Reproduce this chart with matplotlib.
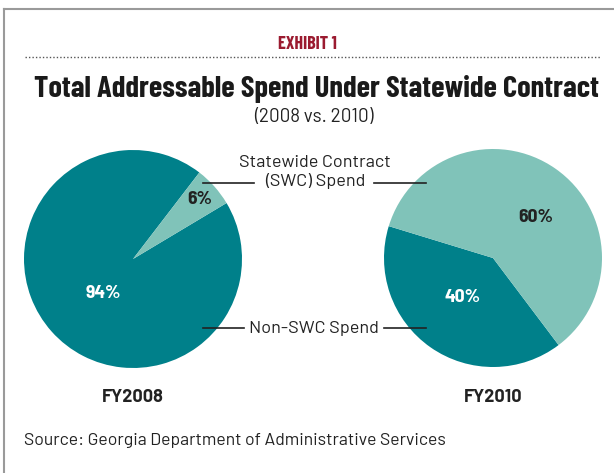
import matplotlib
matplotlib.use("Agg")
import matplotlib.pyplot as plt
from matplotlib.lines import Line2D

# data
years = ["FY2008", "FY2010"]
swc_share = [6, 60]        # Statewide Contract (SWC) Spend, %
non_swc_share = [94, 40]   # Non-SWC Spend, %
slice_names = ["Non-SWC Spend", "Statewide Contract\n(SWC) Spend"]

DARK = "#00808a"
LIGHT = "#80c3b9"
RED = "#9b1b30"
TITLE_FONT = ["Barlow Condensed", "DejaVu Sans"]
PCT_FONT = ["Barlow Semi Condensed", "DejaVu Sans"]
BODY_FONT = ["Barlow", "DejaVu Sans"]
plt.rcParams["font.family"] = BODY_FONT

W, H = 614, 473
fig = plt.figure(figsize=(W / 100, H / 100), dpi=100)
ax = fig.add_axes([0, 0, 1, 1])

def y(v):
    # pixel row from top -> axes y
    return H - v

centers = [(133, y(259)), (493, y(258))]
radius = 109
starts = [52.5, 163]
label_pos = [((200, 200), (103, 293)), ((536, 218), (463, 297))]

for i in range(2):
    ax.pie([non_swc_share[i], swc_share[i]], colors=[DARK, LIGHT],
           startangle=starts[i], counterclock=True, center=centers[i],
           radius=radius, wedgeprops=dict(linewidth=0))
    (sx, sy), (nx, ny) = label_pos[i]
    ax.text(sx, y(sy), f"{swc_share[i]}%", ha="center", va="center",
            fontsize=14, fontweight="bold", color="#222222", family=PCT_FONT)
    ax.text(nx, y(ny), f"{non_swc_share[i]}%", ha="center", va="center",
            fontsize=14, fontweight="bold", color="white", family=PCT_FONT)
    ax.text(centers[i][0], y(397), years[i], ha="center", va="center",
            fontsize=13, fontweight="bold", color="#222222")

ax.set_xlim(0, W)
ax.set_ylim(0, H)
ax.set_aspect("equal")
ax.axis("off")

# callout labels
ax.text(315, y(172), slice_names[1], ha="center", va="center", fontsize=13,
        color="#222222", linespacing=1.25)
ax.text(314, y(328), slice_names[0], ha="center", va="center", fontsize=13,
        color="#222222")
for x0, x1, yy in [(203, 254, 183), (374, 426, 183), (203, 244, 328), (384, 426, 328)]:
    ax.add_line(Line2D([x0, x1], [y(yy), y(yy)], color="#222222", lw=1.2))

# headings
ax.text(307, y(45), "EXHIBIT 1", ha="center", va="center", fontsize=13,
        fontweight="bold", color=RED, family=TITLE_FONT)
ax.add_line(Line2D([25, 600], [y(57), y(57)], color="#555555", lw=1,
                   linestyle=(0, (1, 1.5))))
ax.text(316, y(89), "Total Addressable Spend Under Statewide Contract",
        ha="center", va="center", fontsize=22, fontweight="bold", color="#1a1a1a",
        family=TITLE_FONT)
ax.text(314, y(117), "(2008 vs. 2010)", ha="center", va="center", fontsize=13.5,
        color="#222222")
ax.text(24, y(440), "Source: Georgia Department of Administrative Services",
        ha="left", va="center", fontsize=12.7, color="#222222")

# frame
ax.add_line(Line2D([4, W], [y(9), y(9)], color="#9a9a9a", lw=1.5))
ax.add_line(Line2D([4, 4], [y(9), 0], color="#9a9a9a", lw=1.5))

fig.savefig("out.png", dpi=100)
